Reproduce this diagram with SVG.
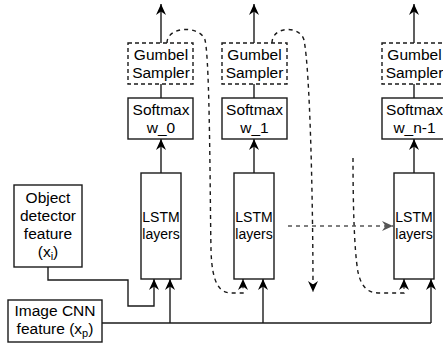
<svg xmlns="http://www.w3.org/2000/svg" width="443" height="345" viewBox="0 0 443 345">
<style>
  .box{fill:#fff;stroke:#1a1a1a;stroke-width:1.4}
  .dbox{fill:#fff;stroke:#1a1a1a;stroke-width:1.4;stroke-dasharray:4 3}
  .t{font-family:"Liberation Sans",Arial,sans-serif;font-size:15.5px;fill:#000;text-anchor:middle}
  .ts{font-family:"Liberation Sans",Arial,sans-serif;font-size:14px;fill:#000;text-anchor:middle}
  .ln{fill:none;stroke:#1a1a1a;stroke-width:1.4}
  .dl{fill:none;stroke:#1a1a1a;stroke-width:1.4;stroke-dasharray:4 4}
  .gl{fill:none;stroke:#555;stroke-width:1.4;stroke-dasharray:4 4}
</style>
<defs>
  <marker id="ah" viewBox="0 0 11 10" refX="11" refY="5" markerWidth="11" markerHeight="10" markerUnits="userSpaceOnUse" orient="auto">
    <path d="M0,0 L11,5 L0,10 L3.5,5 Z" fill="#000"/>
  </marker>
  <marker id="ahg" viewBox="0 0 11 10" refX="11" refY="5" markerWidth="11" markerHeight="10" markerUnits="userSpaceOnUse" orient="auto">
    <path d="M0,0 L11,5 L0,10 L3.5,5 Z" fill="#555"/>
  </marker>
</defs>

<g id="connectors">
  <line class="ln" x1="161" y1="43" x2="161" y2="4" marker-end="url(#ah)"/>
  <line class="ln" x1="254" y1="43" x2="254" y2="4" marker-end="url(#ah)"/>
  <line class="ln" x1="414" y1="43" x2="414" y2="4" marker-end="url(#ah)"/>
  <line class="ln" x1="161" y1="84" x2="161" y2="98"/>
  <line class="ln" x1="254" y1="84" x2="254" y2="98"/>
  <line class="ln" x1="414" y1="84" x2="414" y2="98"/>
  <line class="ln" x1="161" y1="173" x2="161" y2="139" marker-end="url(#ah)"/>
  <line class="ln" x1="254" y1="173" x2="254" y2="139" marker-end="url(#ah)"/>
  <line class="ln" x1="414" y1="173" x2="414" y2="139" marker-end="url(#ah)"/>
  <polyline class="ln" points="48,267 48,280 128,280 128,306 154,306 154,279" marker-end="url(#ah)"/>
  <polyline class="ln" points="102,323 431,323"/>
  <line class="ln" x1="170" y1="323" x2="170" y2="279" marker-end="url(#ah)"/>
  <line class="ln" x1="263" y1="323" x2="263" y2="279" marker-end="url(#ah)"/>
  <line class="ln" x1="431" y1="323" x2="431" y2="279" marker-end="url(#ah)"/>
  <path class="dl" d="M167,43 C167,26 200,25 205,40 C210,60 210,200 211,250 C212,285 220,293 232,293 L243,293 L243,279" marker-end="url(#ah)"/>
  <path class="dl" d="M272,43 C272,26 300,25 304,40 C310,70 313,200 313,292" marker-end="url(#ah)"/>
  <path class="dl" d="M353,158 C353,200 354,250 358,272 C362,290 370,293 380,293 L404,293 L404,279" marker-end="url(#ah)"/>
  <line class="gl" x1="288" y1="226" x2="393" y2="226" marker-end="url(#ahg)"/>
</g>

<g id="gumbel0"><rect class="dbox" x="128" y="43" width="65" height="41"/>
  <text class="t" x="161" y="60">Gumbel</text><text class="t" x="161" y="78">Sampler</text></g>
<g id="softmax0"><rect class="box" x="128" y="98" width="65" height="41"/>
  <text class="t" x="161" y="115">Softmax</text><text class="t" x="161" y="133">w_0</text></g>
<g id="lstm0"><rect class="box" x="141" y="173" width="40" height="106"/>
  <text class="ts" x="161" y="222">LSTM</text><text class="ts" x="161" y="239">layers</text></g>

<g id="gumbel1"><rect class="dbox" x="222" y="43" width="65" height="41"/>
  <text class="t" x="254.5" y="60">Gumbel</text><text class="t" x="254.5" y="78">Sampler</text></g>
<g id="softmax1"><rect class="box" x="222" y="98" width="65" height="41"/>
  <text class="t" x="254.5" y="115">Softmax</text><text class="t" x="254.5" y="133">w_1</text></g>
<g id="lstm1"><rect class="box" x="234" y="173" width="40" height="106"/>
  <text class="ts" x="254" y="222">LSTM</text><text class="ts" x="254" y="239">layers</text></g>

<g id="gumbeln"><rect class="dbox" x="382" y="43" width="65" height="41"/>
  <text class="t" x="414.5" y="60">Gumbel</text><text class="t" x="414.5" y="78">Sampler</text></g>
<g id="softmaxn"><rect class="box" x="382" y="98" width="65" height="41"/>
  <text class="t" x="414.5" y="115">Softmax</text><text class="t" x="414.5" y="133">w_n-1</text></g>
<g id="lstmn"><rect class="box" x="394" y="173" width="40" height="106"/>
  <text class="ts" x="414" y="222">LSTM</text><text class="ts" x="414" y="239">layers</text></g>

<g id="objdet"><rect class="box" x="14" y="185" width="68" height="82"/>
  <text class="t" x="48" y="203">Object</text>
  <text class="t" x="48" y="221">detector</text>
  <text class="t" x="48" y="239">feature</text>
  <text class="t" x="48" y="257">(x<tspan font-size="11" dy="3">i</tspan><tspan dy="-3">)</tspan></text></g>

<g id="imgcnn"><rect class="box" x="8" y="300" width="94" height="42"/>
  <text class="t" x="55" y="316">Image CNN</text>
  <text class="t" x="55" y="334">feature (x<tspan font-size="11" dy="3">p</tspan><tspan dy="-3">)</tspan></text></g>
</svg>
